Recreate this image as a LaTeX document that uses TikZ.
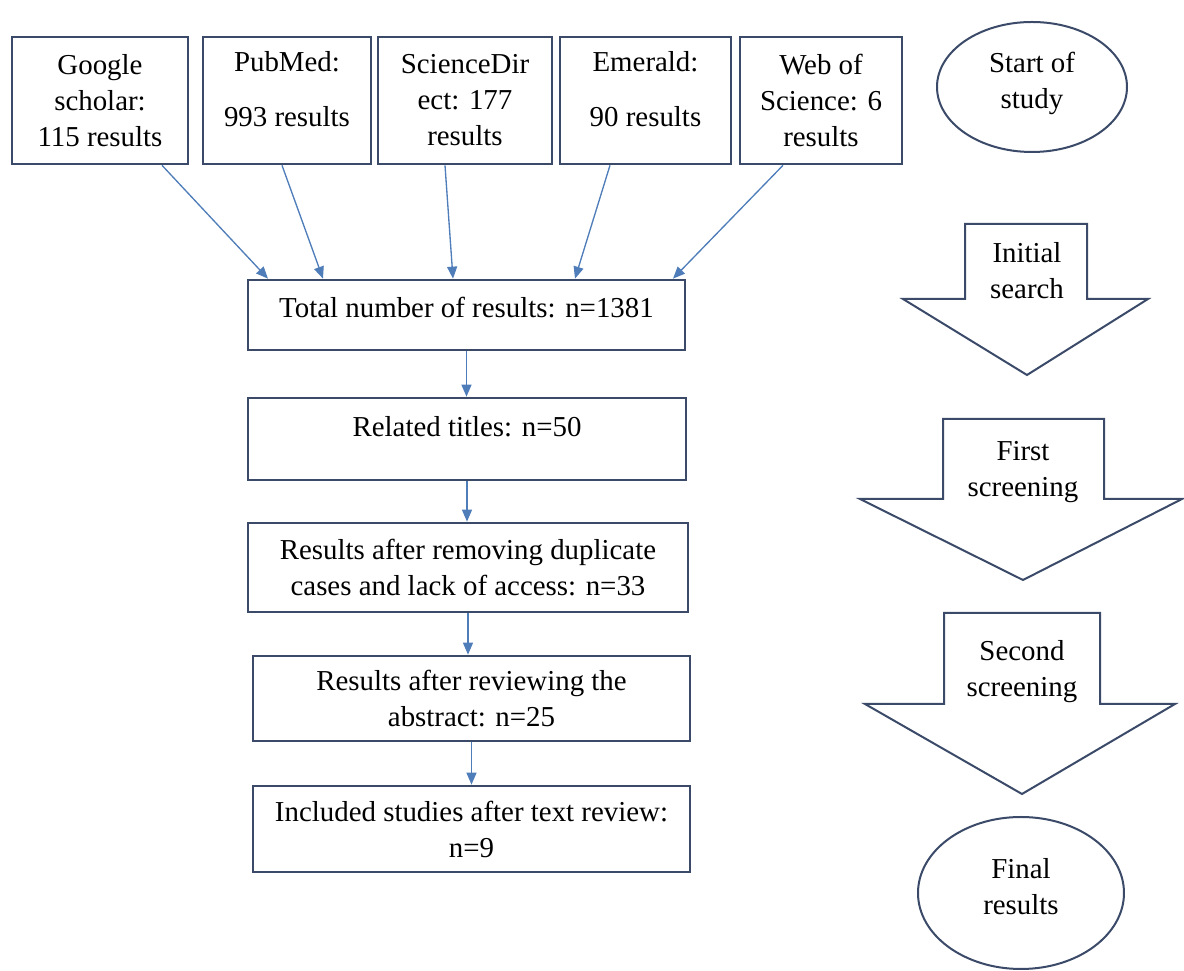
\documentclass[tikz,border=0pt]{standalone}
\usepackage{fontspec}
\setmainfont{Liberation Serif}
\usetikzlibrary{arrows.meta,calc,shapes.geometric}
\definecolor{boxline}{RGB}{58,74,104}
\definecolor{arrline}{RGB}{79,125,185}
\begin{document}
\begin{tikzpicture}[x=0.45pt, y=-0.45pt,
  box/.style={draw=boxline, line width=1.2pt, align=center, inner sep=0pt, font=\fontsize{13}{16.2}\selectfont},
  oval/.style={ellipse, draw=boxline, line width=0.9pt, align=center, inner sep=0pt, font=\fontsize{13}{16.2}\selectfont},
  lbl/.style={align=center, inner sep=0pt, font=\fontsize{13}{16.2}\selectfont},
  arr/.style={arrline, line width=0.6pt, -{Triangle[length=5.4pt,width=4.5pt]}},
  blk/.style={draw=boxline, line width=0.9pt, line join=miter}]
\useasboundingbox (0,0) rectangle (1184,971);
% sources
\node[box, minimum width=79.2pt, minimum height=57.15pt] (google) at (100,100.5) {Google\\scholar:\\115 results};
\node[box, minimum width=75.6pt, minimum height=57.15pt, text depth=10pt] (pubmed) at (287,100.5) {PubMed:\\[8.5pt]993 results};
\node[box, minimum width=78.3pt, minimum height=57.15pt] (sdirect) at (465,100.5) {ScienceDir\\ect: 177\\results};
\node[box, minimum width=76.95pt, minimum height=57.15pt, text depth=10pt] (emerald) at (645.5,100.5) {Emerald:\\[8.5pt]90 results};
\node[box, minimum width=72.9pt, minimum height=57.15pt] (wos) at (821,100.5) {Web of\\Science: 6\\results};
% main column
\node[box, minimum width=196.65pt, minimum height=31.5pt, text depth=7pt] (total) at (466.5,315) {Total number of results: n=1381};
\node[box, minimum width=197.1pt, minimum height=36.9pt, text depth=11pt] (related) at (467,439) {Related titles: n=50};
\node[box, minimum width=198pt, minimum height=40.05pt] (removing) at (468,567.5) {Results after removing duplicate\\cases and lack of access: n=33};
\node[box, minimum width=196.65pt, minimum height=38.25pt] (reviewing) at (471.5,698.5) {Results after reviewing the\\abstract: n=25};
\node[box, minimum width=196.65pt, minimum height=38.7pt] (included) at (471.5,829) {Included studies after text review:\\n=9};
\draw[arr] ($(google.south)+(62,0)$) -- ($(total.north)+(-198.5,0)$);
\draw[arr] ($(pubmed.south)+(-5,0)$) -- ($(total.north)+(-143.5,0)$);
\draw[arr] ($(sdirect.south)+(-20,0)$) -- ($(total.north)+(-13.5,0)$);
\draw[arr] ($(emerald.south)+(-35.5,0)$) -- ($(total.north)+(108.5,0)$);
\draw[arr] ($(wos.south)+(-38,0)$) -- ($(total.north)+(206.5,0)$);
\draw[arr] (total.south) -- (total.south |- related.north);
\draw[arr] (related.south) -- (related.south |- removing.north);
\draw[arr] (removing.south) -- (removing.south |- reviewing.north);
\draw[arr] (reviewing.south) -- (reviewing.south |- included.north);
% stages on the right
\node[oval, minimum width=85.5pt, minimum height=58.5pt, text depth=6pt] (start) at (1032,87) {Start of\\study};
\draw[blk] (965,224) -- (1087,224) -- (1087,299) -- (1148,299) -- (1027,375) -- (903,299) -- (965,299) -- cycle;
\node[lbl] (initial) at (1027,271) {Initial\\search};
\draw[blk] (943,419) -- (1104,419) -- (1104,499) -- (1182,499) -- (1023,580) -- (860,499) -- (943,499) -- cycle;
\node[lbl] (first) at (1023,472) {First\\screening};
\draw[blk] (944,613) -- (1100,613) -- (1100,704) -- (1175,704) -- (1022,794) -- (865,704) -- (944,704) -- cycle;
\node[lbl] (second) at (1022,672) {Second\\screening};
\node[oval, minimum width=92.7pt, minimum height=68.4pt, text depth=6pt] (final) at (1021,893) {Final\\results};
\end{tikzpicture}
\end{document}
